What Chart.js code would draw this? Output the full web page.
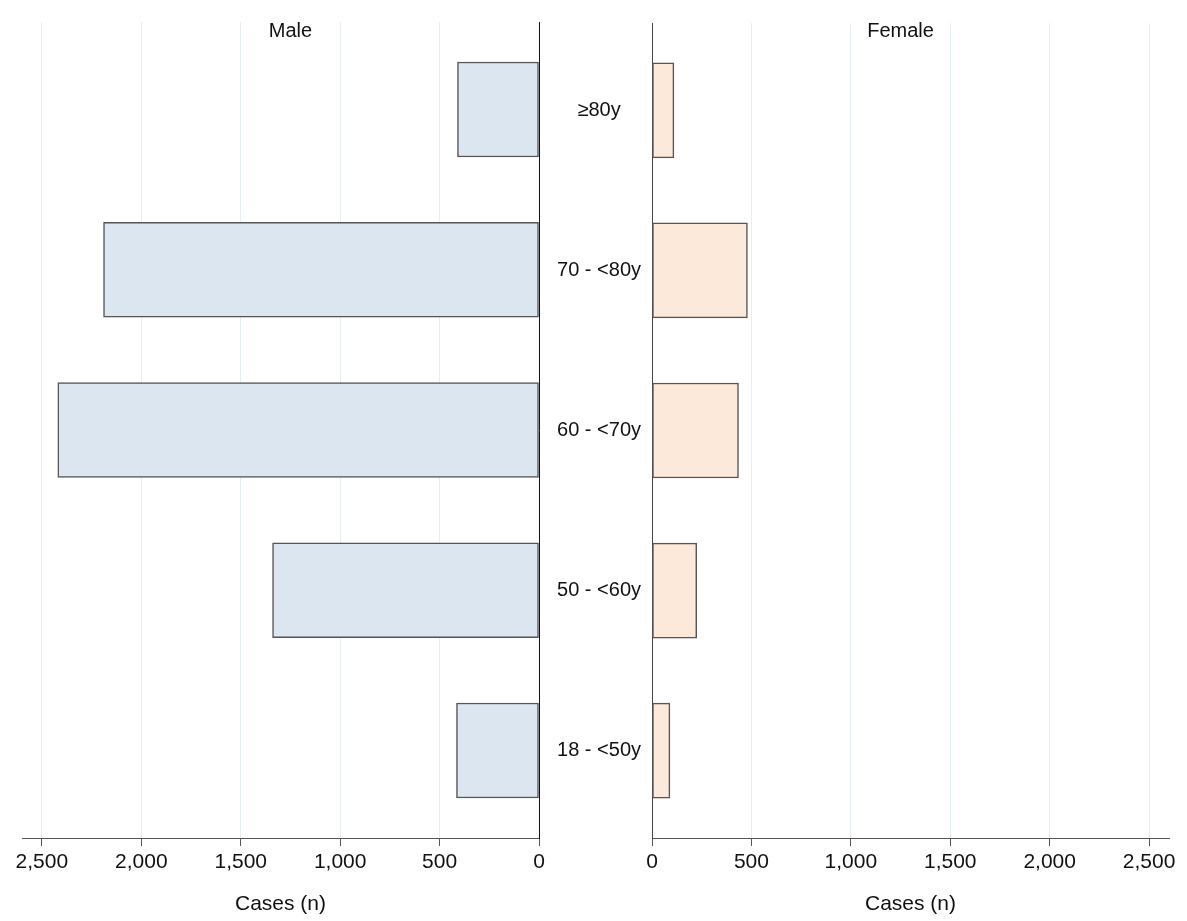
<!DOCTYPE html>
<html>
<head>
<meta charset="utf-8">
<script src="https://cdn.jsdelivr.net/npm/chart.js@4.4.1/dist/chart.umd.min.js"></script>
<style>
  body { margin: 0; background: #fff; }
  #wrap { position: relative; width: 1187px; height: 921px; }
  #male { position: absolute; left: 0; top: 0; }
  #female { position: absolute; left: 540px; top: 0; }
</style>
</head>
<body>
<div id="wrap">
  <canvas id="male" width="570" height="921"></canvas>
  <canvas id="female" width="647" height="921"></canvas>
</div>
<script>
// age groups, top to bottom
const ageGroups = ['≥80y', '70 - <80y', '60 - <70y', '50 - <60y', '18 - <50y'];
const maleCases = [410, 2190, 2420, 1340, 415];
const femaleCases = [110, 480, 435, 225, 90];
const xTickValues = [0, 500, 1000, 1500, 2000, 2500];
const axisMax = 2600;

Chart.defaults.font.family = "'Liberation Sans', Arial, sans-serif";
Chart.defaults.color = '#111';

// panel title drawn inside the top of the plot area
const panelTitle = {
    id: 'panelTitle',
    afterDraw(chart, args, opts) {
        const ctx = chart.ctx;
        const x = chart.scales.x.getPixelForValue(1250);
        ctx.save();
        ctx.font = '20px ' + Chart.defaults.font.family;
        ctx.fillStyle = '#111';
        ctx.textAlign = 'center';
        ctx.textBaseline = 'middle';
        ctx.fillText(opts.text, x, 31);
        ctx.restore();
    }
};

function makeX(reverse) {
    return {
        type: 'linear',
        min: 0,
        max: axisMax,
        reverse: reverse,
        grid: { color: '#e5eef2', tickColor: '#555', tickLength: 8, lineWidth: 1 },
        border: { display: true, color: '#555', width: 1 },
        ticks: {
            padding: 4,
            font: { size: 21 },
            color: '#111',
            callback: v => v.toLocaleString('en-US')
        },
        title: { display: true, text: 'Cases (n)', font: { size: 21 }, color: '#111', padding: { top: 4, bottom: 4 } },
        afterBuildTicks: s => { s.ticks = xTickValues.map(v => ({ value: v })); },
        afterFit: s => { s.height = 83; s.paddingLeft = 0; s.paddingRight = 0; }
    };
}

function makeData(values, fill) {
    return {
        datasets: [{
            data: values.map((v, i) => ({ x: v, y: i })),
            backgroundColor: fill,
            borderColor: '#555',
            borderWidth: 1.5,
            borderSkipped: false,
            barThickness: 95
        }]
    };
}

const yRange = { min: -0.546, max: 4.546 };

new Chart(document.getElementById('male'), {
    type: 'bar',
    data: makeData(maleCases, '#dce6f1'),
    plugins: [panelTitle],
    options: {
        indexAxis: 'y',
        responsive: false,
        animation: false,
        layout: { padding: { left: 22, right: 31, top: 22, bottom: 0 } },
        plugins: { legend: { display: false }, tooltip: { enabled: false }, panelTitle: { text: 'Male' } },
        scales: {
            x: makeX(true),
            y: {
                type: 'linear',
                position: 'right',
                reverse: true,
                offset: false,
                min: yRange.min,
                max: yRange.max,
                grid: { display: false, drawTicks: false, offset: false },
                border: { display: true, color: '#111', width: 1 },
                ticks: { display: false },
                afterFit: s => { s.width = 0; }
            }
        }
    }
});

new Chart(document.getElementById('female'), {
    type: 'bar',
    data: makeData(femaleCases, '#fde9d9'),
    plugins: [panelTitle],
    options: {
        indexAxis: 'y',
        responsive: false,
        animation: false,
        layout: { padding: { left: 0, right: 18, top: 22, bottom: 0 } },
        plugins: { legend: { display: false }, tooltip: { enabled: false }, panelTitle: { text: 'Female' } },
        scales: {
            x: makeX(false),
            y: {
                type: 'linear',
                position: 'left',
                reverse: true,
                offset: false,
                min: yRange.min,
                max: yRange.max,
                grid: { display: false, drawTicks: false, offset: false },
                border: { display: true, color: '#444', width: 1 },
                ticks: {
                    crossAlign: 'center',
                    padding: 11,
                    font: { size: 20 },
                    color: '#111',
                    callback: v => ageGroups[v] || ''
                },
                afterBuildTicks: s => { s.ticks = ageGroups.map((_, i) => ({ value: i })); },
                afterFit: s => { s.width = 112; }
            }
        }
    }
});
</script>
</body>
</html>
